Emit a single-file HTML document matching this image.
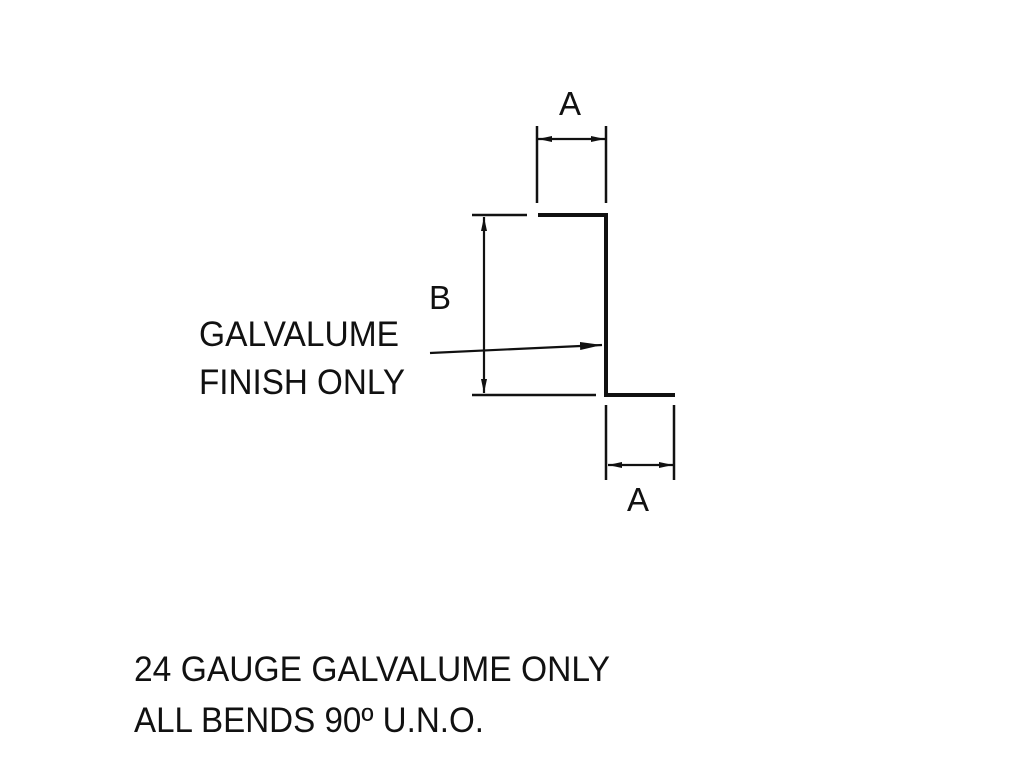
<!DOCTYPE html>
<html><head><style>
body{margin:0;background:#fff;width:1024px;height:768px;overflow:hidden}
svg{display:block}
text{font-family:"Liberation Sans",sans-serif;fill:#111}
</style></head><body>
<svg width="1024" height="768" viewBox="0 0 1024 768">
<defs>
<marker id="ar" viewBox="0 0 14 8" refX="14" refY="4" markerWidth="14" markerHeight="8" markerUnits="userSpaceOnUse" orient="auto-start-reverse"><path d="M0,1 L14,4 L0,7 z" fill="#111"/></marker>
<marker id="ar2" viewBox="0 0 22 8" refX="22" refY="4" markerWidth="22" markerHeight="8" markerUnits="userSpaceOnUse" orient="auto"><path d="M0,0 L22,4 L0,8 z" fill="#111"/></marker>
</defs>
<g stroke="#111" fill="none">
<path d="M538 215 H606 V395 H675" stroke-width="4"/>
<g stroke-width="2.5">
<line x1="537" y1="126" x2="537" y2="203"/>
<line x1="606" y1="126" x2="606" y2="203"/>
<line x1="472" y1="215" x2="527" y2="215"/>
<line x1="472" y1="395" x2="596" y2="395"/>
<line x1="606" y1="405" x2="606" y2="480"/>
<line x1="674" y1="405" x2="674" y2="480"/>
</g>
<g stroke-width="2.2">
<line x1="538" y1="139" x2="605" y2="139" marker-start="url(#ar)" marker-end="url(#ar)"/>
<line x1="484" y1="217" x2="484" y2="393" marker-start="url(#ar)" marker-end="url(#ar)"/>
<line x1="608" y1="465" x2="673" y2="465" marker-start="url(#ar)" marker-end="url(#ar)"/>
<line x1="430" y1="353" x2="602" y2="345" marker-end="url(#ar2)"/>
</g>
</g>
<text x="570" y="115" font-size="33" text-anchor="middle">A</text>
<text x="638" y="511" font-size="33" text-anchor="middle">A</text>
<text x="440" y="309" font-size="33" text-anchor="middle">B</text>
<text x="199" y="346" font-size="35" textLength="200" lengthAdjust="spacingAndGlyphs">GALVALUME</text>
<text x="199" y="394" font-size="35" textLength="206" lengthAdjust="spacingAndGlyphs">FINISH ONLY</text>
<text x="134" y="681" font-size="35" textLength="476" lengthAdjust="spacingAndGlyphs">24 GAUGE GALVALUME ONLY</text>
<text x="134" y="732" font-size="35" textLength="350" lengthAdjust="spacingAndGlyphs">ALL BENDS 90º U.N.O.</text>
</svg>
</body></html>
